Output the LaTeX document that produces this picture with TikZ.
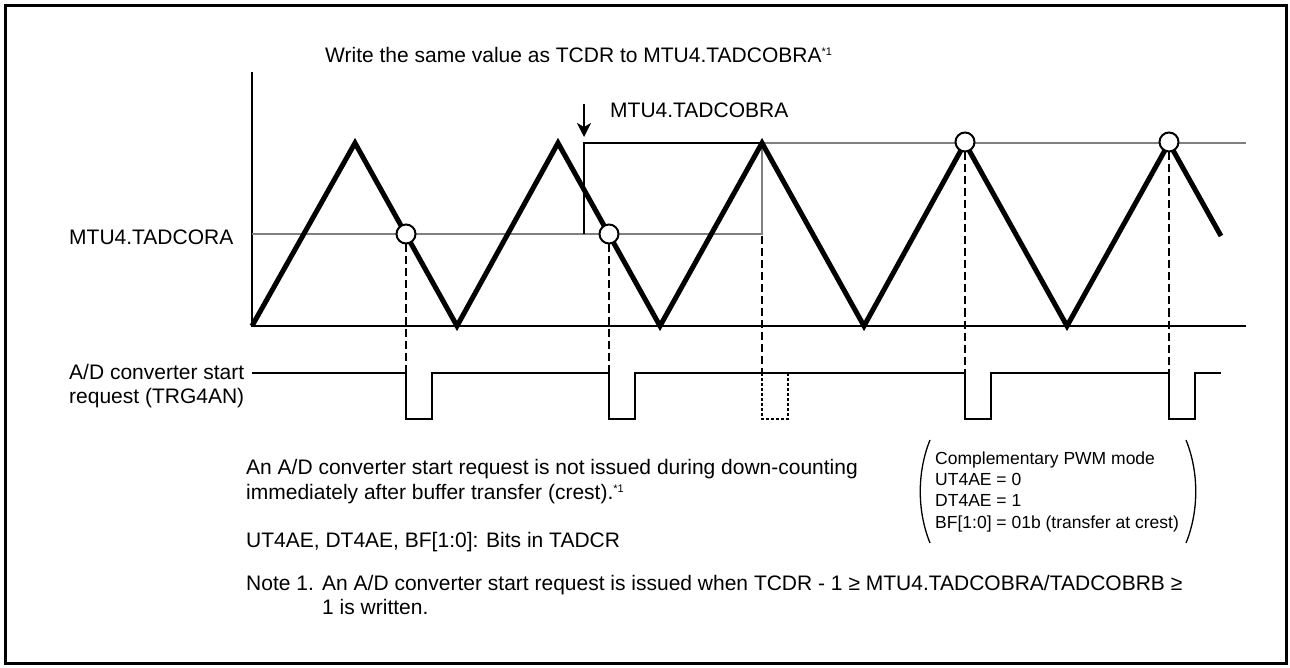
\documentclass[tikz,border=0pt]{standalone}
\usepackage{fontspec}
\setmainfont{Liberation Sans}
\usetikzlibrary{arrows.meta}
\begin{document}
\begin{tikzpicture}[x=1pt,y=-1pt,
  txt/.style={anchor=base west, inner sep=0pt, font=\fontsize{21}{25}\selectfont},
  smalltxt/.style={anchor=base west, inner sep=0pt, font=\fontsize{17.5}{21}\selectfont},
  wave/.style={line width=5pt, line join=miter},
  grayline/.style={line width=2.6pt, color=black!50},
  thinline/.style={line width=1.3pt},
  sig/.style={line width=2.6pt},
  vdashed/.style={line width=2.2pt, dash pattern=on 8pt off 4pt},
  dotpulse/.style={line width=2.6pt, dash pattern=on 3pt off 2pt},
  circ/.style={circle, draw, fill=white, line width=2pt, minimum size=19pt, inner sep=0pt}]
\useasboundingbox (0,0) rectangle (1290,668);
\draw[line width=3pt] (5.5,5.5) rectangle (1286.5,663.5);

% axes
\coordinate (axtop) at (252,72);
\coordinate (axorig) at (252,326);
\coordinate (axend) at (1246,326);
\draw[line width=1.5pt] (axtop) -- (axorig) -- (axend);

% TADCORA (gray) and TADCOBRA levels
\coordinate (ra0) at (252,234);
\coordinate (ra1) at (762,234);
\coordinate (rb0) at (762,143);
\coordinate (rb1) at (1246,143);
\draw[grayline] (ra0) -- (ra1) -- (rb0) -- (rb1);
\coordinate (bb0) at (584,234);
\coordinate (bb1) at (584,143);
\draw[thinline] (bb0) -- (bb1) -- (rb0);

% triangle wave
\draw[wave] (252,326) -- (355,143) -- (457,326) -- (558,143) -- (660,326)
  -- (762,143) -- (864,326) -- (965,143) -- (1067,326) -- (1169,143) -- (1221,236);

% circles
\node[circ] (c1) at (406,234) {};
\node[circ] (c2) at (609,234) {};
\node[circ] (c4) at (965,142) {};
\node[circ] (c5) at (1169,142) {};
\coordinate (c3) at (762,236);

% start request signal
\coordinate (p1) at (406,373);
\coordinate (p2) at (609,373);
\coordinate (p3) at (762,373);
\coordinate (p4) at (965,373);
\coordinate (p5) at (1169,373);
\draw[sig] (252,373) -- (p1) -- (406,419) -- (432,419) -- (432,373) -- (p2)
  -- (609,419) -- (635,419) -- (635,373) -- (p4) -- (965,419) -- (991,419)
  -- (991,373) -- (p5) -- (1169,419) -- (1195,419) -- (1195,373) -- (1221,373);
\draw[dotpulse] (p3) -- (762,419) -- (788,419) -- (788,373);

% dashed drop lines
\draw[vdashed] (c1.south) -- (p1);
\draw[vdashed] (c2.south) -- (p2);
\draw[vdashed] (c3) -- (p3);
\draw[vdashed] (c4.south) -- (p4);
\draw[vdashed] (c5.south) -- (p5);

% arrow and labels
\coordinate (arrtop) at (584,104);
\coordinate (arrtip) at (584,137);
\draw[line width=2pt, -{Stealth[length=14pt,width=14pt,inset=4pt]}] (arrtop) -- (arrtip);
\node[txt] (toptxt) at (325,63) {Write the same value as TCDR to MTU4.TADCOBRA\raisebox{7pt}{\fontsize{11}{12}\selectfont *1}};
\node[txt] (lbb) at (610,118) {MTU4.TADCOBRA};
\node[txt] (lra) at (69,245) {MTU4.TADCORA};
\node[txt] (lad1) at (69,379) {A/D converter start};
\node[txt] (lad2) at (69,403) {request (TRG4AN)};

% notes
\node[txt] (n1) at (246,474) {An A/D converter start request is not issued during down-counting};
\node[txt] (n2) at (246,499) {immediately after buffer transfer (crest).\raisebox{7pt}{\fontsize{11}{12}\selectfont *1}};
\node[txt] (n3) at (246,547) {UT4AE, DT4AE, BF[1:0]: Bits in TADCR};
\node[txt] (n4) at (246,590) {Note 1.};
\node[txt] (n5) at (322,590) {An A/D converter start request is issued when TCDR - 1 ≥ MTU4.TADCOBRA/TADCOBRB ≥};
\node[txt] (n6) at (322,614) {1 is written.};

% bracketed mode box
\draw[thinline] (930,440) .. controls (917,472) and (917,511) .. (930,543);
\draw[thinline] (1186,440) .. controls (1199,472) and (1199,511) .. (1186,543);
\node[smalltxt] (m1) at (935,464) {Complementary PWM mode};
\node[smalltxt] (m2) at (935,485) {UT4AE = 0};
\node[smalltxt] (m3) at (935,506) {DT4AE = 1};
\node[smalltxt] (m4) at (935,528) {BF[1:0] = 01b (transfer at crest)};
\end{tikzpicture}
\end{document}
